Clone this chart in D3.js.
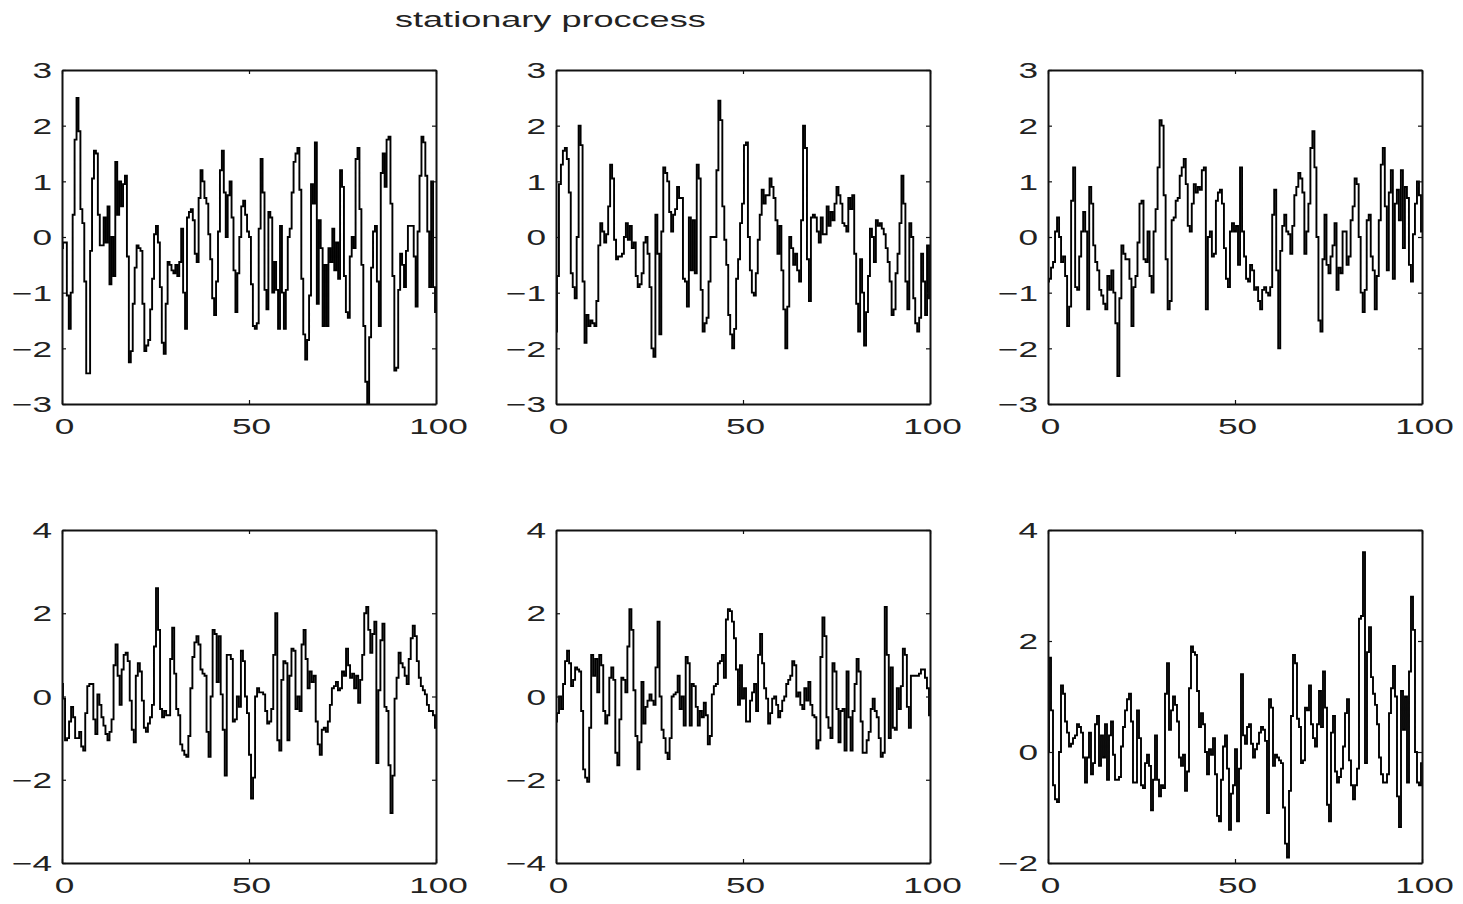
<!DOCTYPE html>
<html lang="en">
<head>
<meta charset="utf-8" />
<title>stationary proccess</title>
<style>
  * { margin: 0; padding: 0; }
  body { background: #fff; }
  svg { display: block; }
  .lbl { font-family: "Liberation Sans", Arial, sans-serif; font-size: 22px; fill: #222; }
  .axis path, .axis line { stroke: #111; }
  .axis path { stroke-width: 2px; }
  .axis line { stroke-width: 1.2px; }
  .series { fill: none; stroke: #000; stroke-width: 1.9px; }
</style>
</head>
<body>
<script src="https://cdnjs.cloudflare.com/ajax/libs/d3/7.8.5/d3.min.js"></script>
<script>

var titleText = "stationary proccess";
var xTicks = [0, 50, 100];

var yDomTop = [-3, 3], yTicksTop = [-3, -2, -1, 0, 1, 2, 3];
var yDomBot = [-4, 4], yTicksBot = [-4, -2, 0, 2, 4];
var yDomSix = [-2, 4], yTicksSix = [-2, 0, 2, 4];

var s1 = [
-0.2, -0.1, -0.1, -1.05, -1.65, -1.0, 0.4, 1.75, 2.5, 1.9,
0.5, 0.25, -0.8, -2.45, -2.45, -0.25, 1.05, 1.55, 1.5, 0.4,
-0.15, -0.15, 0.35, -0.1, 0.55, -0.85, 0.0, -0.7, 1.35, 0.4,
1.0, 0.55, 0.95, 1.1, -0.35, -2.25, -2.05, -1.2, -0.55, -0.15,
-0.2, -0.25, -1.2, -2.05, -1.95, -1.85, -1.3, -0.75, 0.05, 0.2,
-0.1, -0.9, -1.9, -2.1, -1.2, -0.45, -0.5, -0.6, -0.65, -0.5,
-0.7, -0.45, 0.15, -1.0, -1.65, 0.35, 0.45, 0.5, 0.3, -0.3,
-0.45, 0.7, 1.2, 1.0, 0.7, 0.6, 0.05, -0.4, -1.1, -1.4,
-0.8, 0.1, 1.2, 1.55, 0.8, 0.0, 0.75, 1.0, 0.35, -0.6,
-1.35, -0.65, 0.0, 0.55, 0.65, 0.4, 0.1, 0.0, -0.85, -1.6,
-1.65, -1.55, 0.15, 1.4, 0.8, -0.95, -1.3, 0.45, 0.35, -1.0,
-0.45, -0.95, -1.65, 0.2, -1.0, -1.65, -0.95, 0.0, 0.15, 0.8,
1.35, 1.5, 1.6, 0.85, -0.75, -1.75, -2.2, -1.85, -1.05, 0.95,
0.6, 1.7, -1.2, 0.3, -0.2, -1.6, -0.5, -1.6, -0.2, -0.45,
0.15, -0.6, -0.1, -0.75, 1.2, 0.9, -0.7, -1.35, -1.45, -0.35,
0.0, -0.2, 1.4, 1.6, 0.5, -0.5, -1.6, -2.6, -3.0, -1.8,
-0.55, 0.1, 0.2, -0.8, -1.6, 1.15, 1.5, 0.9, 1.75, 1.8,
0.6, -0.7, -2.4, -2.35, -0.95, -0.3, -0.5, -0.9, -0.25, 0.2,
0.2, 0.2, -0.35, -1.25, 0.1, 1.1, 1.8, 1.7, 1.1, 0.1,
-0.9, 1.0, -0.9, -1.35
];

var s2 = [
-1.7, -0.7, 0.95, 1.3, 1.55, 1.6, 1.4, 0.8, -0.65, -0.9,
-1.1, 0.0, 2.0, 1.65, -0.8, -1.9, -1.4, -1.6, -1.5, -1.55,
-1.6, -1.15, -0.15, 0.25, 0.1, -0.1, 0.05, 0.55, 1.3, 1.05,
-0.05, -0.4, -0.35, -0.35, -0.3, 0.0, 0.25, -0.05, 0.2, -0.2,
-0.1, -0.7, -0.9, -0.85, -0.65, -0.1, 0.0, -0.3, -0.9, -2.0,
-2.15, 0.4, -0.3, -1.75, 0.1, 1.25, 1.15, 1.0, 0.45, 0.1,
0.4, 0.5, 0.9, 0.7, 0.7, -0.75, -0.8, -1.25, 0.35, -0.6,
0.3, -0.65, 1.3, 1.05, -0.95, -1.7, -1.55, -1.45, -0.8, 0.0,
0.0, 0.0, 1.2, 2.45, 2.1, 0.55, -0.05, -0.5, -1.4, -1.75,
-2.0, -1.65, -0.75, -0.4, 0.25, 0.6, 1.65, 1.7, 0.0, -0.6,
-1.0, -1.05, -0.65, -0.05, 0.4, 0.85, 0.6, 0.75, 0.75, 1.05,
0.9, 0.7, 0.3, -0.3, 0.2, -0.6, -1.3, -2.0, -1.25, 0.0,
-0.2, -0.5, -0.3, -0.6, -0.8, 0.3, 2.0, 1.6, -0.4, -1.15,
0.35, 0.4, 0.35, 0.1, -0.1, 0.35, 0.05, 0.05, 0.55, 0.2,
0.45, 0.3, 0.6, 0.9, 0.75, 0.6, 0.25, 0.2, 0.1, 0.7,
0.5, 0.75, -0.3, -1.2, -1.7, -0.4, -1.0, -1.95, -1.35, -0.7,
0.15, 0.0, -0.45, 0.3, 0.2, 0.25, 0.15, 0.05, -0.2, -0.45,
-0.8, -1.4, -1.3, -0.65, -0.3, 0.25, 1.1, 0.6, -0.8, -1.3,
0.25, 0.0, -1.1, -1.55, -1.7, -1.45, -0.3, -0.8, -1.4, -0.15,
-1.1
];

var s3 = [
-0.8, -0.75, -0.55, -0.45, 0.1, 0.35, 0.0, -0.45, -0.35, -0.7,
-1.6, -1.25, 0.65, 1.25, -0.9, -0.95, -0.35, 0.1, 0.45, 0.1,
-1.3, 0.9, 0.6, -0.15, -0.45, -0.6, -0.95, -1.05, -1.2, -1.3,
-0.7, -0.95, -0.6, -1.0, -1.55, -2.5, -1.1, -0.15, -0.3, -0.4,
-0.4, -0.75, -1.6, -0.9, -0.7, -0.1, 0.6, 0.65, -0.4, -0.45,
0.1, -0.7, -1.0, 0.1, 0.5, 1.25, 2.1, 2.0, 0.75, -0.4,
-1.3, -1.15, 0.3, 0.35, 0.65, 0.7, 1.1, 1.25, 1.4, 0.95,
0.2, 0.1, 0.6, 0.95, 0.8, 0.9, 0.85, 1.2, 1.25, -1.3,
0.0, 0.1, -0.35, -0.3, 0.65, 0.8, 0.85, 0.6, -0.2, -0.75,
-0.9, 0.1, 0.25, 0.1, 0.2, -0.5, 1.25, 0.1, -0.35, -0.75,
-0.8, -0.5, -0.6, -0.95, -0.9, -1.15, -1.3, -0.95, -0.9, -1.0,
-1.05, -0.9, 0.4, 0.85, -0.6, -2.0, -0.25, 0.2, 0.4, 0.1,
0.05, -0.3, 0.2, 0.75, 0.9, 1.15, 1.05, 0.8, -0.3, 0.1,
0.6, 1.6, 1.9, 1.25, 0.0, -1.5, -1.7, -0.4, 0.4, -0.5,
-0.65, -0.35, -0.15, 0.25, -0.95, -0.55, -0.65, 0.1, 0.1, -0.5,
-0.35, 0.3, 0.55, 1.05, 0.95, 0.0, -1.0, -1.35, -0.95, 0.3,
0.4, -0.35, -0.6, -1.3, -0.7, 0.3, 1.3, 1.6, 0.55, -0.6,
0.8, 1.2, -0.75, 0.6, 0.85, 0.3, 1.2, -0.2, 0.9, 0.7,
-0.5, -0.8, 0.05, 0.6, 1.0, 0.75, 0.1
];

var s4 = [
0.3, -0.05, -1.05, -1.0, -0.6, -0.25, -0.5, -1.0, -1.0, -0.85,
-1.2, -1.3, -0.4, 0.25, 0.3, 0.3, -0.55, -0.9, 0.05, -0.2,
-0.5, -0.7, -0.9, -1.05, -0.85, -0.55, 0.75, 1.25, 0.5, -0.2,
0.65, 1.0, 1.05, 0.85, -0.1, -0.8, -1.1, 0.5, 0.8, 0.6,
-0.1, -0.75, -0.85, -0.65, -0.5, -0.2, 1.2, 2.6, 1.6, -0.3,
-0.5, -0.35, -0.45, -0.45, 0.9, 1.65, 0.55, -0.3, -0.45, -1.15,
-1.3, -1.4, -1.45, -0.95, 0.2, 0.95, 1.3, 1.45, 1.25, 0.65,
0.55, 0.5, -0.85, -1.45, 0.0, 1.6, 1.5, 0.35, 1.45, 0.05,
-0.8, -1.9, 1.0, 1.0, 0.9, -0.6, -0.55, 0.0, -0.25, 1.1,
0.85, 0.0, -0.4, -1.4, -2.45, -1.95, 0.0, 0.2, 0.1, 0.1,
0.05, -0.35, -0.65, -0.6, -0.3, 1.0, 2.0, -1.05, -1.3, 0.4,
0.85, 0.8, -1.05, 0.5, 1.15, 1.1, -0.3, 0.0, -0.35, 1.25,
1.6, 0.9, 0.2, 0.6, 0.35, 0.5, -0.6, -1.15, -1.4, -0.8,
-0.75, -0.85, -0.6, -0.2, 0.2, 0.25, 0.35, 0.15, 0.2, 0.6,
0.5, 1.15, 0.75, 0.45, 0.55, 0.2, 0.5, -0.15, 0.4, 1.0,
2.0, 2.15, 1.6, 1.05, 1.5, 1.8, -1.6, 0.15, 1.35, 1.75,
-0.25, -0.35, -1.65, -2.8, -1.9, -0.05, 0.45, 1.05, 0.8, 0.7,
0.5, 0.3, 0.9, 1.4, 1.7, 1.45, 0.85, 0.45, 0.25, 0.15,
0.05, -0.2, -0.35, -0.35, -0.45, -0.75
];

var s5 = [
-0.6, -0.4, 0.0, -0.3, 0.3, 0.85, 1.1, 0.8, 0.25, 0.4,
0.7, 0.65, 0.6, -0.35, -1.75, -1.95, -2.05, -0.75, 1.0, 0.5,
0.9, 0.1, 1.0, 0.75, -0.35, -0.65, -0.45, 0.45, 0.7, 0.4,
-1.35, -1.65, -0.55, 0.45, 0.4, 0.1, 1.2, 2.1, 1.6, 0.15,
-0.95, -1.75, -1.1, 0.35, -0.65, -0.25, -0.1, 0.05, -0.1, -0.2,
0.7, 1.8, 0.0, -0.8, -1.0, -1.35, -1.5, -1.0, 0.0, 0.05,
0.1, 0.5, -0.3, 0.0, -0.7, 0.95, 0.8, -0.7, 0.3, 0.25,
-0.25, -0.7, -0.35, -0.5, -0.15, -0.45, -1.15, -0.95, 0.05, 0.25,
0.3, 0.8, 0.85, 1.0, 0.45, 1.85, 2.1, 2.05, 1.8, 1.4,
0.65, -0.2, 0.75, -0.05, 0.2, -0.6, -0.6, -0.1, 0.1, 0.3,
-0.35, 1.0, 1.5, 0.8, 0.2, -0.05, -0.65, -0.4, -0.05, 0.0,
-0.2, -0.5, -0.35, -0.1, 0.0, 0.3, 0.4, 0.5, 0.85, 0.75,
0.0, 0.1, -0.2, -0.3, 0.2, -0.1, 0.35, -0.2, -0.45, -0.5,
-1.25, -1.05, 0.95, 1.9, 1.45, -0.5, -0.75, -1.0, 0.8, 0.6,
-0.3, -1.1, -0.35, -0.3, -1.3, 0.6, -0.5, -1.3, -0.35, 0.3,
0.9, 0.6, -0.6, -1.35, -1.35, -1.05, -0.85, -0.3, -0.05, -0.35,
-0.5, -1.0, -1.45, -1.35, 2.15, 1.0, -1.0, 0.7, -0.75, -0.8,
0.2, -0.3, 0.25, 1.15, 1.0, -0.25, -0.75, 0.5, 0.5, 0.5,
0.5, 0.55, 0.65, 0.65, 0.45, 0.2, -0.45
];

var s6 = [
0.0, 1.7, 0.75, -0.6, -0.85, -0.9, 0.0, 1.2, 1.05, 0.55,
0.35, 0.1, 0.15, 0.25, 0.3, 0.5, 0.45, 0.35, -0.1, -0.55,
-0.1, 0.35, -0.4, -0.2, 0.5, 0.65, -0.25, 0.3, -0.1, 0.5,
-0.5, 0.3, 0.55, -0.05, -0.5, -0.5, -0.45, 0.1, 0.45, 0.75,
0.95, 1.05, 0.55, -0.55, -0.55, 0.75, 0.25, -0.6, -0.65, -0.2,
-0.05, -0.25, -1.05, -0.5, 0.3, -0.5, -0.8, -0.6, -0.65, 1.05,
1.6, 0.4, 0.75, 1.0, 0.85, 0.55, -0.1, -0.25, -0.05, -0.7,
-0.35, 1.15, 1.9, 1.8, 1.75, 1.1, 0.45, 0.7, 0.5, 0.0,
-0.4, 0.05, -0.05, 0.25, -0.4, -1.15, -1.25, -0.5, 0.1, 0.3,
-0.3, -1.4, -0.75, -0.6, 0.05, -1.25, -0.3, 1.4, 0.3, 0.15,
0.45, 0.5, 0.15, -0.1, 0.05, 0.15, 0.35, 0.45, 0.4, 0.2,
-1.1, 0.95, 0.8, -0.25, -0.05, -0.1, -0.15, -0.2, -1.0, -1.65,
-1.9, -0.7, 0.65, 1.75, 1.6, 0.6, 0.45, -0.2, -0.15, 0.8,
0.75, 1.2, 0.5, 0.25, 0.1, 0.5, 1.1, 0.45, 1.45, 0.8,
-0.95, -1.25, 0.35, 0.65, -0.35, -0.55, -0.45, -0.3, 0.1, 0.7,
0.95, -0.15, -0.6, -0.85, -0.6, -0.3, 2.4, 2.45, 3.6, -0.2,
1.8, 2.25, 1.35, 1.05, 0.85, 0.5, -0.1, -0.4, -0.55, -0.55,
-0.4, 0.7, 1.15, 1.55, 1.0, -0.8, -1.35, 1.1, 0.4, 1.0,
-0.55, 1.45, 2.8, 2.2, 0.0, -0.55, -0.6, -0.2
];

// layout of the 2x3 grid
var W = 1463, H = 904;
var colLeft = [62, 556, 1048];
var rowTop = [70, 530];
var pw = 374, ph = [334, 333];

var panels = [
  { data: s1, col: 0, row: 0, dom: yDomTop, ticks: yTicksTop },
  { data: s2, col: 1, row: 0, dom: yDomTop, ticks: yTicksTop },
  { data: s3, col: 2, row: 0, dom: yDomTop, ticks: yTicksTop },
  { data: s4, col: 0, row: 1, dom: yDomBot, ticks: yTicksBot },
  { data: s5, col: 1, row: 1, dom: yDomBot, ticks: yTicksBot },
  { data: s6, col: 2, row: 1, dom: yDomSix, ticks: yTicksSix }
];

var sx = 1.6; // labels in the source are stretched horizontally
var fmt = function(d) { return d < 0 ? "\u2212" + Math.abs(d) : String(d); };

var svg = d3.select("body").append("svg")
  .attr("width", W)
  .attr("height", H);

svg.append("text")
  .attr("class", "lbl")
  .attr("transform", "translate(395,27) scale(1.64,1)")
  .text(titleText);

panels.forEach(function(p, k) {
  var w = pw, h = ph[p.row];
  var g = svg.append("g")
    .attr("transform", "translate(" + colLeft[p.col] + "," + rowTop[p.row] + ")");

  var x = d3.scaleLinear().domain([0, 100]).range([0, w]);
  var y = d3.scaleLinear().domain(p.dom).range([h, 0]);
  var n = p.data.length;

  g.append("clipPath").attr("id", "clip" + k)
    .append("rect").attr("width", w).attr("height", h);

  var line = d3.line()
    .x(function(d, i) { return x(i * 100 / (n - 1)); })
    .y(function(d) { return y(d); })
    .curve(d3.curveStep);

  g.append("path")
    .datum(p.data)
    .attr("class", "series")
    .attr("clip-path", "url(#clip" + k + ")")
    .attr("d", line);

  // box with inward ticks on all four sides
  var left = g.append("g").attr("class", "axis")
    .call(d3.axisLeft(y).tickValues(p.ticks).tickSizeInner(-4).tickSizeOuter(0).tickFormat(fmt));
  left.selectAll("text")
    .attr("class", "lbl").attr("x", null).attr("dy", "0.35em")
    .attr("transform", "translate(-10,0) scale(" + sx + ",1)");

  g.append("g").attr("class", "axis")
    .attr("transform", "translate(" + w + ",0)")
    .call(d3.axisRight(y).tickValues(p.ticks).tickSizeInner(-4).tickSizeOuter(0).tickFormat(""));

  g.append("g").attr("class", "axis")
    .call(d3.axisTop(x).tickValues(xTicks).tickSizeInner(-4).tickSizeOuter(0).tickFormat(""));

  var bottom = g.append("g").attr("class", "axis")
    .attr("transform", "translate(0," + h + ")")
    .call(d3.axisBottom(x).tickValues(xTicks).tickSizeInner(-4).tickSizeOuter(0));
  bottom.selectAll("text")
    .attr("class", "lbl").attr("y", null).attr("dy", null)
    .attr("transform", "translate(2,30) scale(" + sx + ",1)");

  g.selectAll(".axis text").attr("fill", null);
});

</script>
</body>
</html>
